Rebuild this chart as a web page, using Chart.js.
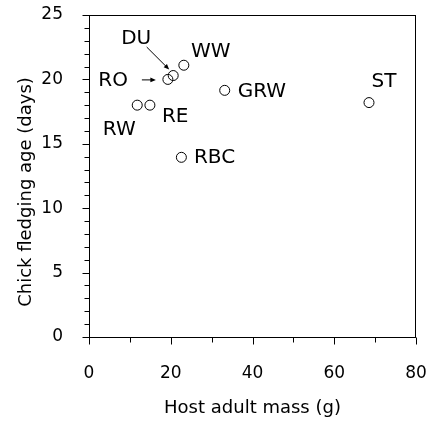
<!DOCTYPE html>
<html>
<head>
<meta charset="utf-8">
<script src="https://cdn.jsdelivr.net/npm/chart.js@4"></script>
<style>
  body { margin: 0; background: #fff; }
  canvas { display: block; }
</style>
</head>
<body>
<canvas id="myChart" width="431" height="422"></canvas>
<script>
const species = ['RW', 'RE', 'RO', 'DU', 'WW', 'GRW', 'RBC', 'ST'];
const hostMass = [11.8, 14.9, 19.3, 20.6, 23.2, 33.2, 22.6, 68.5];
const fledgingAge = [18.0, 18.0, 20.0, 20.3, 21.1, 19.15, 13.95, 18.2];
const xTicks = [0, 20, 40, 60, 80];
const yTicks = [0, 5, 10, 15, 20, 25];

const FONT = 'DejaVu Sans';

// where each label sits relative to its point (px), and its alignment
const labelPos = {
  RW: [-18, 25, 'center'],
  RE: [12, 12, 'left'],
  RO: [-40, 1.5, 'right'],
  DU: [-37, -37, 'center'],
  WW: [27, -13, 'center'],
  GRW: [13, 1.5, 'left'],
  RBC: [12.5, 0.5, 'left'],
  ST: [15, -21, 'center'],
};

// arrows: from/to offsets relative to point (px)
const arrows = {
  DU: [-26.5, -28.5, -4, -6],
  RO: [-26, 0.5, -12, 0.5],
};

const drawArrow = (ctx, x1, y1, x2, y2) => {
  const a = Math.atan2(y2 - y1, x2 - x1);
  const len = 6;
  ctx.beginPath();
  ctx.moveTo(x1, y1);
  ctx.lineTo(x2 - Math.cos(a) * 3, y2 - Math.sin(a) * 3);
  ctx.stroke();
  ctx.beginPath();
  ctx.moveTo(x2, y2);
  ctx.lineTo(x2 - len * Math.cos(a - 0.4), y2 - len * Math.sin(a - 0.4));
  ctx.lineTo(x2 - len * Math.cos(a + 0.4), y2 - len * Math.sin(a + 0.4));
  ctx.closePath();
  ctx.fill();
};

// fixed axis sizes, no extra room for overflowing labels
const fixX = (s) => {
  s.height = 85;
  s.paddingLeft = s.paddingRight = s.paddingTop = s.paddingBottom = 0;
};
const fixY = (s) => {
  s.width = 89;
  s.paddingLeft = s.paddingRight = s.paddingTop = s.paddingBottom = 0;
};

const framePlugin = {
  id: 'frame',
  afterDraw(chart) {
    const { ctx, chartArea: a, scales } = chart;
    const xs = scales.x;
    const ys = scales.y;
    ctx.save();
    ctx.strokeStyle = '#000';
    ctx.fillStyle = '#000';
    ctx.lineWidth = 1;
    ctx.strokeRect(a.left + 0.5, a.top + 0.5, a.right - a.left - 1, a.bottom - a.top);

    // ticks, major and minor
    ctx.beginPath();
    for (let v = 0; v <= 25; v++) {
      const py = Math.round(ys.getPixelForValue(v)) + 0.5;
      const l = v % 5 === 0 ? 7 : 5;
      ctx.moveTo(a.left + 0.5, py);
      ctx.lineTo(a.left + 0.5 - l, py);
    }
    for (let v = 0; v <= 80; v += 10) {
      const px = Math.round(xs.getPixelForValue(v)) + 0.5;
      const l = v % 20 === 0 ? 7 : 5;
      ctx.moveTo(px, a.bottom + 0.5);
      ctx.lineTo(px, a.bottom + 0.5 + l);
    }
    ctx.stroke();

    // point labels and arrows
    ctx.font = `20px "${FONT}"`;
    ctx.textBaseline = 'middle';
    species.forEach((name, i) => {
      const px = xs.getPixelForValue(hostMass[i]);
      const py = ys.getPixelForValue(fledgingAge[i]);
      const [dx, dy, align] = labelPos[name];
      ctx.textAlign = align;
      ctx.fillText(name, px + dx, py + dy);
      if (arrows[name]) {
        const [x1, y1, x2, y2] = arrows[name];
        drawArrow(ctx, px + x1, py + y1, px + x2, py + y2);
      }
    });

    // y axis title
    ctx.font = `18px "${FONT}"`;
    ctx.textAlign = 'center';
    ctx.translate(26.5, 192);
    ctx.rotate(-Math.PI / 2);
    ctx.fillText('Chick fledging age (days)', 0, 0);
    ctx.restore();
  },
};

new Chart(document.getElementById('myChart'), {
  type: 'scatter',
  data: {
    datasets: [
      {
        label: 'Hosts',
        data: species.map((s, i) => ({ x: hostMass[i], y: fledgingAge[i] })),
        pointRadius: 5,
        borderWidth: 1,
        borderColor: '#000',
        backgroundColor: 'rgba(255,255,255,0)',
      },
    ],
  },
  options: {
    responsive: false,
    animation: false,
    devicePixelRatio: 1,
    layout: { padding: { top: 15, right: 15, left: 0, bottom: 0 } },
    plugins: { legend: { display: false }, tooltip: { enabled: false } },
    scales: {
      x: {
        type: 'linear',
        min: 0,
        max: 80,
        afterFit: fixX,
        afterBuildTicks: (s) => { s.ticks = xTicks.map((v) => ({ value: v })); },
        grid: { display: false, drawTicks: false },
        border: { display: false },
        ticks: { padding: 26, color: '#000', font: { family: FONT, size: 17 } },
        title: {
          display: true,
          text: 'Host adult mass (g)',
          color: '#000',
          font: { family: FONT, size: 18 },
          padding: { top: 0, bottom: 3 },
        },
      },
      y: {
        type: 'linear',
        min: 0,
        max: 25,
        afterFit: fixY,
        afterBuildTicks: (s) => { s.ticks = yTicks.map((v) => ({ value: v })); },
        grid: { display: false, drawTicks: false },
        border: { display: false },
        ticks: { padding: 26, color: '#000', font: { family: FONT, size: 17 } },
      },
    },
  },
  plugins: [framePlugin],
});
</script>
</body>
</html>
